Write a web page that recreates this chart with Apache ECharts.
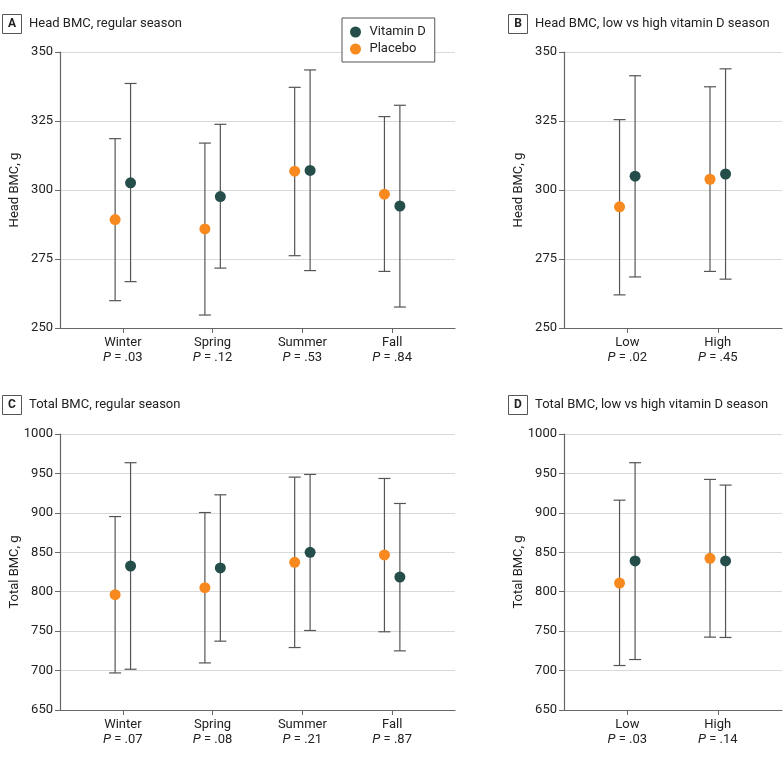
<!DOCTYPE html>
<html>
<head>
<meta charset="utf-8">
<script src="https://cdn.jsdelivr.net/npm/echarts@6/dist/echarts.min.js"></script>
<style>
  html, body { margin: 0; padding: 0; background: #fff; }
  #chart { width: 783px; height: 758px; }
</style>
</head>
<body>
<div id="chart"></div>
<script>
// panel A: head BMC by season
const seasons = ['Winter', 'Spring', 'Summer', 'Fall']
const headSeasonP = ['.03', '.12', '.53', '.84']
const headSeasonVitD = [302.6, 297.6, 307.1, 294.2]
const headSeasonVitDLow = [266.8, 271.7, 270.8, 257.6]
const headSeasonVitDHigh = [338.6, 323.8, 343.5, 330.7]
const headSeasonPlacebo = [289.3, 285.9, 306.8, 298.5]
const headSeasonPlaceboLow = [259.9, 254.7, 276.2, 270.5]
const headSeasonPlaceboHigh = [318.6, 317.0, 337.2, 326.6]

// panel B: head BMC, low vs high vitamin D season
const levels = ['Low', 'High']
const headLevelP = ['.02', '.45']
const headLevelVitD = [305.0, 305.8]
const headLevelVitDLow = [268.5, 267.7]
const headLevelVitDHigh = [341.4, 343.9]
const headLevelPlacebo = [293.9, 303.9]
const headLevelPlaceboLow = [262.0, 270.5]
const headLevelPlaceboHigh = [325.5, 337.4]

// panel C: total BMC by season
const totalSeasonP = ['.07', '.08', '.21', '.87']
const totalSeasonVitD = [832.6, 830.1, 850.0, 818.6]
const totalSeasonVitDLow = [701.7, 737.3, 750.8, 725.0]
const totalSeasonVitDHigh = [963.6, 922.9, 948.7, 911.9]
const totalSeasonPlacebo = [796.2, 805.1, 837.3, 846.6]
const totalSeasonPlaceboLow = [697.0, 709.7, 729.2, 749.2]
const totalSeasonPlaceboHigh = [895.3, 900.4, 945.3, 943.6]

// panel D: total BMC, low vs high vitamin D season
const totalLevelP = ['.03', '.14']
const totalLevelVitD = [839.0, 839.0]
const totalLevelVitDLow = [714.0, 742.0]
const totalLevelVitDHigh = [963.6, 935.2]
const totalLevelPlacebo = [811.0, 842.4]
const totalLevelPlaceboLow = [706.4, 742.4]
const totalLevelPlaceboHigh = [916.1, 942.4]

const VIT_COLOR = '#254e4b'
const PLA_COLOR = '#f7891f'
const FONT = 'Roboto, "Noto Sans", sans-serif'
const SHIFT = 0.086

const chart = echarts.init(document.getElementById('chart'))

// error bar drawn via the axis scales
const renderBar = (params, api) => {
  const x = api.value(0)
  const top = api.coord([x, api.value(2)])
  const bot = api.coord([x, api.value(1)])
  const half = 6
  const style = { stroke: '#555', lineWidth: 1.2 }
  return {
    type: 'group',
    children: [
      { type: 'line', shape: { x1: top[0], y1: top[1], x2: bot[0], y2: bot[1] }, style },
      { type: 'line', shape: { x1: top[0] - half, y1: top[1], x2: top[0] + half, y2: top[1] }, style },
      { type: 'line', shape: { x1: bot[0] - half, y1: bot[1], x2: bot[0] + half, y2: bot[1] }, style }
    ]
  }
}

const grids = [
  { left: 57, top: 52, width: 398, height: 276 },
  { left: 564, top: 52, width: 218, height: 276 },
  { left: 57, top: 434, width: 398, height: 276 },
  { left: 564, top: 434, width: 218, height: 276 }
]

const panels = [
  { cats: seasons, p: headSeasonP, vit: headSeasonVitD, vitLo: headSeasonVitDLow, vitHi: headSeasonVitDHigh,
    pla: headSeasonPlacebo, plaLo: headSeasonPlaceboLow, plaHi: headSeasonPlaceboHigh,
    min: 250, max: 350, interval: 25, name: 'Head BMC, g', xmax: 4.7 },
  { cats: levels, p: headLevelP, vit: headLevelVitD, vitLo: headLevelVitDLow, vitHi: headLevelVitDHigh,
    pla: headLevelPlacebo, plaLo: headLevelPlaceboLow, plaHi: headLevelPlaceboHigh,
    min: 250, max: 350, interval: 25, name: 'Head BMC, g', xmax: 2.71 },
  { cats: seasons, p: totalSeasonP, vit: totalSeasonVitD, vitLo: totalSeasonVitDLow, vitHi: totalSeasonVitDHigh,
    pla: totalSeasonPlacebo, plaLo: totalSeasonPlaceboLow, plaHi: totalSeasonPlaceboHigh,
    min: 650, max: 1000, interval: 50, name: 'Total BMC, g', xmax: 4.7 },
  { cats: levels, p: totalLevelP, vit: totalLevelVitD, vitLo: totalLevelVitDLow, vitHi: totalLevelVitDHigh,
    pla: totalLevelPlacebo, plaLo: totalLevelPlaceboLow, plaHi: totalLevelPlaceboHigh,
    min: 650, max: 1000, interval: 50, name: 'Total BMC, g', xmax: 2.71 }
]

const xAxes = []
const yAxes = []
const series = []

panels.forEach((pn, i) => {
  const ticks = pn.cats.map((c, k) => k + 1)
  xAxes.push({
    type: 'value',
    gridIndex: i,
    min: 0.3,
    max: pn.xmax,
    axisLine: { lineStyle: { color: '#666', width: 1.2 } },
    axisTick: { customValues: ticks, length: 5, lineStyle: { color: '#666' } },
    splitLine: { show: false },
    axisLabel: {
      customValues: ticks,
      margin: 7,
      color: '#222',
      fontFamily: FONT,
      fontSize: 13,
      lineHeight: 15,
      formatter: (v) => pn.cats[Math.round(v) - 1] + '\n{i|P} = ' + pn.p[Math.round(v) - 1],
      rich: {
        i: { fontStyle: 'italic', fontFamily: FONT, fontSize: 13, color: '#222', lineHeight: 15 }
      }
    }
  })
  yAxes.push({
    type: 'value',
    gridIndex: i,
    min: pn.min,
    max: pn.max,
    interval: pn.interval,
    name: pn.name,
    nameLocation: 'middle',
    nameGap: 39,
    nameMoveOverlap: false,
    nameTextStyle: { color: '#222', fontFamily: FONT, fontSize: 13 },
    axisLine: { show: true, lineStyle: { color: '#666', width: 1.2 } },
    axisTick: { show: true, length: 5, lineStyle: { color: '#666' } },
    axisLabel: { color: '#222', fontFamily: FONT, fontSize: 13, margin: 7, formatter: (v) => String(v) },
    splitLine: { lineStyle: { color: '#d9d9d9', width: 1.2 } }
  })
  series.push({
    name: 'Placebo CI',
    type: 'custom',
    xAxisIndex: i,
    yAxisIndex: i,
    renderItem: renderBar,
    encode: { x: 0, y: [1, 2] },
    z: 1,
    data: pn.pla.map((v, k) => [k + 1 - SHIFT, pn.plaLo[k], pn.plaHi[k]])
  })
  series.push({
    name: 'Vitamin D CI',
    type: 'custom',
    xAxisIndex: i,
    yAxisIndex: i,
    renderItem: renderBar,
    encode: { x: 0, y: [1, 2] },
    z: 1,
    data: pn.vit.map((v, k) => [k + 1 + SHIFT, pn.vitLo[k], pn.vitHi[k]])
  })
  series.push({
    name: 'Placebo',
    type: 'scatter',
    xAxisIndex: i,
    yAxisIndex: i,
    symbolSize: 11,
    itemStyle: { color: PLA_COLOR, opacity: 1 },
    z: 3,
    data: pn.pla.map((v, k) => [k + 1 - SHIFT, v])
  })
  series.push({
    name: 'Vitamin D',
    type: 'scatter',
    xAxisIndex: i,
    yAxisIndex: i,
    symbolSize: 11,
    itemStyle: { color: VIT_COLOR, opacity: 1 },
    z: 3,
    data: pn.vit.map((v, k) => [k + 1 + SHIFT, v])
  })
})

// panel letter boxes and titles
const titles = [
  { letter: 'A', text: 'Head BMC, regular season', x: 2, y: 24 },
  { letter: 'B', text: 'Head BMC, low vs high vitamin D season', x: 508, y: 24 },
  { letter: 'C', text: 'Total BMC, regular season', x: 2, y: 405 },
  { letter: 'D', text: 'Total BMC, low vs high vitamin D season', x: 508, y: 405 }
]
const graphic = []
titles.forEach(t => {
  graphic.push({
    type: 'rect',
    shape: { x: t.x + 0.5, y: t.y - 9.5, width: 19, height: 19 },
    style: { fill: '#fff', stroke: '#555', lineWidth: 1 }
  })
  graphic.push({
    type: 'text',
    style: {
      x: t.x + 10, y: t.y, text: t.letter, align: 'center', verticalAlign: 'middle',
      font: 'bold 12px ' + FONT, fill: '#222'
    }
  })
  graphic.push({
    type: 'text',
    style: {
      x: t.x + 27, y: t.y, text: t.text, align: 'left', verticalAlign: 'middle',
      font: '13px ' + FONT, fill: '#222'
    }
  })
})

chart.setOption({
  animation: false,
  backgroundColor: '#fff',
  grid: grids,
  xAxis: xAxes,
  yAxis: yAxes,
  legend: {
    data: ['Vitamin D', 'Placebo'],
    orient: 'vertical',
    left: 342,
    top: 18,
    padding: [7, 9, 6, 8],
    itemGap: 3,
    itemWidth: 18,
    itemHeight: 11,
    icon: 'circle',
    borderColor: '#555',
    borderWidth: 1,
    borderRadius: 0,
    backgroundColor: '#fff',
    selectedMode: false,
    textStyle: { color: '#222', fontFamily: FONT, fontSize: 13, lineHeight: 14 }
  },
  graphic,
  series
})
</script>
</body>
</html>
